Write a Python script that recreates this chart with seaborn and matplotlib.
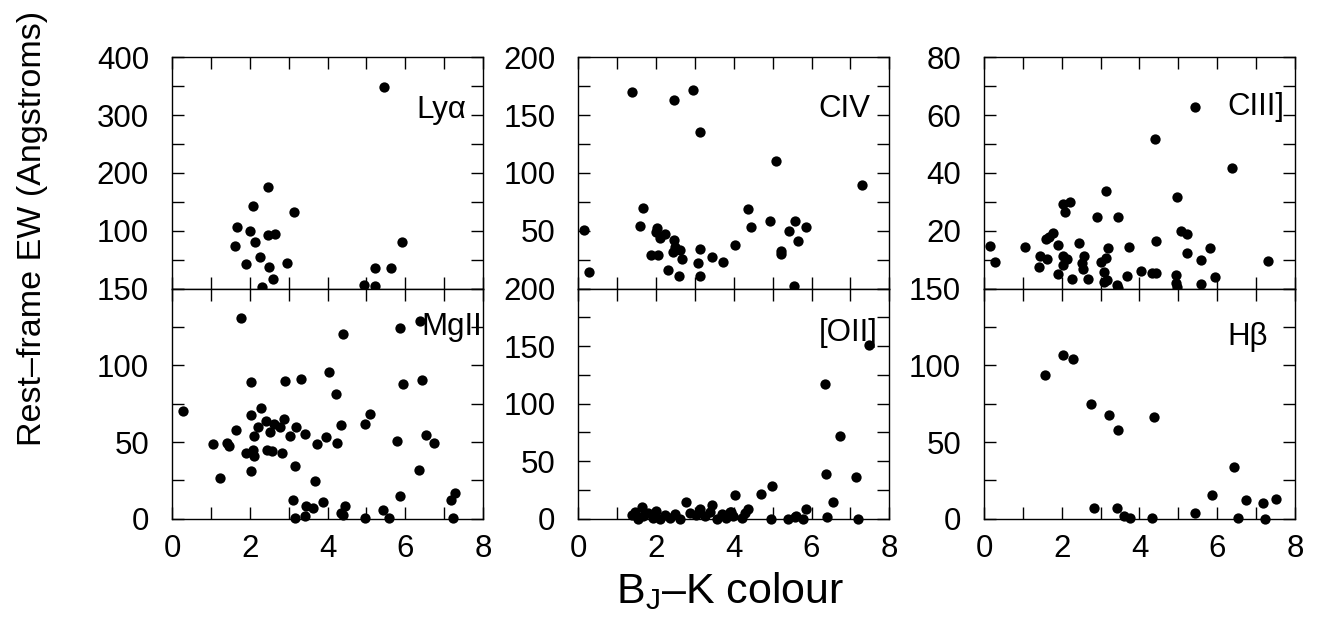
import matplotlib
matplotlib.use("Agg")
import matplotlib.pyplot as plt
from matplotlib.ticker import MultipleLocator, FuncFormatter
import pandas as pd
import seaborn as sns

# ---- emission-line equivalent widths versus B_J-K colour ----
lya_colour = [5.45, 2.46, 2.08, 3.14, 1.67, 2.00, 2.46, 2.64, 1.61, 2.14, 2.26,
              1.90, 2.50, 2.95, 2.60, 2.32, 4.95, 5.23, 5.23, 5.64, 5.91]
lya_ew = [348, 175, 142, 132, 107, 99, 92, 95, 73, 80, 55,
          42, 38, 44, 17, 3.5, 6, 4.5, 35, 36, 80]

civ_colour = [0.15, 0.27, 1.39, 1.66, 1.60, 2.45, 2.95, 3.12, 2.02, 1.99, 2.11,
              2.24, 1.88, 2.05, 2.31, 2.45, 2.50, 2.44, 2.62, 2.67, 2.58, 3.12,
              3.07, 3.14, 3.44, 3.73, 4.03, 4.37, 4.43, 5.08, 4.93, 5.21, 5.21,
              5.57, 5.43, 5.64, 5.55, 5.87, 7.29]
civ_ew = [51, 14, 170, 70, 54.5, 163, 172, 135, 52, 49, 43.5,
          47.5, 29, 29, 16, 42, 36, 31.5, 33.5, 26, 11, 34.5,
          22, 10.5, 27.5, 23, 38, 68.5, 53.5, 110, 58.5, 32.5, 29.5,
          58.5, 49.5, 41, 2.5, 53.5, 90]

ciii_colour = [5.43, 4.39, 6.37, 3.15, 4.97, 2.03, 2.22, 2.09, 2.91, 3.44, 1.78,
               1.68, 1.60, 5.08, 5.22, 0.15, 0.29, 1.05, 1.90, 2.45, 4.43, 1.44,
               1.61, 2.03, 2.14, 2.58, 3.19, 3.74, 5.22, 5.81, 5.58, 7.30, 1.41,
               2.03, 2.53, 2.54, 3.02, 3.13, 1.90, 2.26, 2.68, 3.09, 3.09, 3.17,
               3.43, 3.45, 3.69, 4.05, 4.33, 4.42, 4.94, 4.95, 4.97, 5.58, 5.94]
ciii_ew = [62.8, 51.6, 41.6, 33.7, 31.7, 29.4, 30.1, 26.5, 24.8, 24.8, 19.3,
           18.0, 17.1, 19.9, 18.9, 14.9, 9.2, 14.3, 15.0, 15.7, 16.3, 11.3,
           10.4, 11.3, 10.4, 11.3, 13.9, 14.3, 12.4, 14.2, 9.8, 9.7, 7.3,
           8.1, 8.8, 6.9, 9.2, 10.6, 5.0, 3.3, 3.3, 5.9, 2.2, 3.0,
           1.3, 0.1, 4.3, 6.1, 5.5, 5.3, 4.6, 1.8, 0.7, 1.5, 4.1]

mgii_colour = [1.78, 5.87, 6.39, 4.39, 0.28, 4.05, 2.02, 2.90, 3.33, 4.22, 5.95,
               6.43, 2.29, 2.03, 2.41, 2.62, 2.87, 2.77, 2.21, 1.64, 3.19, 2.53,
               2.10, 3.03, 3.42, 3.96, 4.34, 4.97, 5.09, 1.05, 1.42, 1.46, 3.74,
               4.25, 5.80, 6.54, 6.75, 1.91, 2.08, 2.10, 2.44, 2.56, 2.83, 2.03,
               1.24, 3.16, 3.68, 6.36, 3.10, 3.89, 3.45, 3.63, 4.44, 5.87, 3.16,
               3.42, 4.34, 4.39, 4.96, 5.43, 5.57, 7.17, 7.29, 7.22]
mgii_ew = [131, 124, 129, 120.5, 70, 95.5, 89, 89.5, 91, 81.5, 87.5,
           90.5, 72, 67.5, 64, 62, 65, 59.5, 60, 57.5, 59.5, 56.5,
           54, 54, 55, 53.5, 61, 62, 68.5, 48.5, 49.5, 47.5, 49,
           49.5, 50.5, 54.5, 49.5, 43, 44.5, 41, 45, 44, 43, 31,
           26.5, 34.5, 24.5, 31.5, 12.5, 11, 8, 7, 8, 15, 0.5,
           1.5, 3.5, 2.5, 0.3, 5.5, 0.7, 12.5, 17, 0.7]

oii_colour = [6.34, 7.48, 6.73, 6.37, 7.15, 6.54, 6.41, 7.20, 5.85, 5.78, 5.57,
              5.40, 5.60, 4.99, 4.71, 4.03, 4.96, 4.37, 4.29, 4.20, 3.94, 2.76,
              3.43, 1.63, 1.37, 1.46, 1.54, 1.67, 1.80, 1.93, 2.01, 2.10, 2.23,
              2.36, 2.49, 2.61, 2.87, 3.04, 3.13, 3.26, 3.39, 3.56, 3.69, 3.81,
              3.90, 3.98]
oii_ew = [117, 151, 71.5, 38.5, 36.5, 14.5, 1.5, 0, 8, 0, 1.2,
          0, 2.6, 28.6, 21.2, 21, 0, 8.4, 4.9, 0.6, 5.8, 14.5,
          11.6, 10, 3, 6, 0, 2, 5, 1, 7, 0, 3,
          1, 4, 0, 5, 3, 8, 2, 6, 0, 4, 1,
          6, 2]

hb_colour = [1.56, 2.03, 2.29, 2.76, 3.22, 3.44, 4.38, 6.42, 5.87, 6.75, 7.17,
             7.50, 2.83, 3.42, 3.61, 3.75, 4.32, 5.42, 6.54, 7.23]
hb_ew = [94, 107, 104, 74.5, 67.5, 57.5, 66, 33.5, 15.5, 12.5, 10,
         13, 7, 6.7, 2, 0.4, 0.4, 3.7, 0.7, 0]

line_names = ["Ly\u03b1", "CIV", "CIII]", "MgII", "[OII]", "H\u03b2"]
y_limits = [400, 200, 80, 150, 200, 150]
y_major = [100, 50, 20, 50, 50, 50]
y_minor = [50, 25, 10, 25, 25, 25]
x_ticks = [0, 2, 4, 6, 8]

panels = [
    (lya_colour, lya_ew), (civ_colour, civ_ew), (ciii_colour, ciii_ew),
    (mgii_colour, mgii_ew), (oii_colour, oii_ew), (hb_colour, hb_ew),
]
# label anchor (axes fraction) for each line name
label_pos = [(0.787, 0.77), (0.772, 0.775), (0.781, 0.783),
             (0.803, 0.835), (0.772, 0.807), (0.781, 0.79)]

sns.set_style("ticks")
plt.rcParams['font.family'] = ['Liberation Sans', 'DejaVu Sans']
plt.rcParams['mathtext.fontset'] = 'custom'
plt.rcParams['mathtext.rm'] = 'Liberation Sans'
plt.rcParams['mathtext.it'] = 'Liberation Sans'
for key in ("text.color", "axes.labelcolor", "xtick.color", "ytick.color",
            "axes.edgecolor"):
    plt.rcParams[key] = "black"

W, H = 1322, 617
fig = plt.figure(figsize=(W / 100, H / 100), dpi=100)

col_left = [172 / W, 578.3 / W, 984 / W]
ax_w = 311 / W
row_bottom = [1 - 288.6 / H, 1 - 518.7 / H]
row_h = [231.3 / H, 230.1 / H]

tick_fs = 22.5

for i, (xs, ys) in enumerate(panels):
    r, c = divmod(i, 3)
    ax = fig.add_axes([col_left[c], row_bottom[r], ax_w, row_h[r]])
    df = pd.DataFrame({"colour": xs, "ew": ys})
    sns.scatterplot(data=df, x="colour", y="ew", ax=ax, color="black",
                    s=55, linewidth=0, clip_on=False, zorder=3)
    ax.set_xlim(0, 8)
    ax.set_ylim(0, y_limits[i])
    ax.set_xticks(x_ticks)
    ax.xaxis.set_minor_locator(MultipleLocator(1))
    ax.yaxis.set_major_locator(MultipleLocator(y_major[i]))
    ax.yaxis.set_minor_locator(MultipleLocator(y_minor[i]))
    ax.set_xlabel("")
    ax.set_ylabel("")
    for sp in ax.spines.values():
        sp.set_visible(True)
        sp.set_linewidth(1.0)
        sp.set_color("black")
    ax.tick_params(which="both", direction="in", top=True, right=True,
                   length=8.5, width=1.0, colors="black", labelsize=tick_fs)
    ax.tick_params(axis="y", pad=16.5)
    ax.tick_params(axis="x", pad=11)
    if r == 0:
        ax.tick_params(axis="x", labelbottom=False)
        ax.yaxis.set_major_formatter(
            FuncFormatter(lambda v, p: "" if abs(v) < 1e-9 else f"{v:g}"))
    else:
        ax.yaxis.set_major_formatter(FuncFormatter(lambda v, p: f"{v:g}"))
    ax.text(label_pos[i][0], label_pos[i][1], line_names[i],
            transform=ax.transAxes, ha="left", va="center", fontsize=22.5,
            color="black", zorder=4)

fig.text(730 / W, 1 - 591 / H, "B$_\\mathregular{J}$\u2013K colour",
         ha="center", va="center", fontsize=31, color="black")
fig.text(32.5 / W, 1 - 228 / H, "Rest\u2013frame EW (Angstroms)",
         rotation=90, ha="center", va="center", fontsize=24.5, color="black")

fig.savefig("out.png", dpi=100)
